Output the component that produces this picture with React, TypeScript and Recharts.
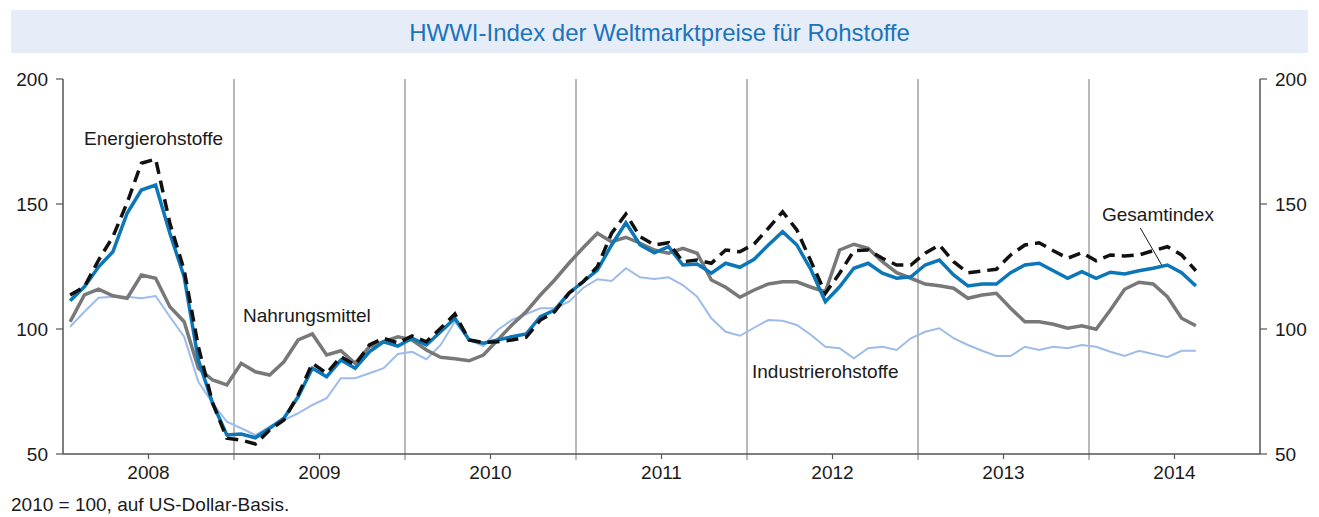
import {
  LineChart,
  Line,
  XAxis,
  YAxis,
  ReferenceLine,
} from "recharts";

// monthly values, Jan 2008 - Aug 2014 (2010 = 100)
const years = ["2008", "2009", "2010", "2011", "2012", "2013", "2014"];

const gesamt = [
  111.3, 116.9, 124.9, 130.9, 146.3, 155.6, 157.6, 138.3, 120.9, 87.6, 70.3, 57.6,
  58, 56.5, 60.3, 64.3, 72.9, 84.3, 80.9, 87.6, 84.3, 90.9, 94.9, 93.2,
  96.3, 93.6, 98.9, 104.3, 95.6, 94.3, 95.6, 96.9, 98, 104.9, 107.6, 114.3,
  118.9, 123.6, 133.6, 142.5, 133.6, 130.5, 132.9, 125.6, 126, 122.3, 126.3, 124.7,
  127.9, 133.6, 138.9, 133.6, 123.6, 110.9, 116.9, 124.3, 126.3, 122.3, 120.3, 120.9,
  125.6, 127.6, 121.6, 117.2, 118, 118, 122.5, 125.6, 126.3, 123.3, 120.3, 122.9,
  120.3, 122.7, 122, 123.3, 124.3, 125.6, 122.5, 117.2,
];

const energie = [
  113.6, 116.9, 127.6, 136.9, 150.5, 166.3, 168, 142.3, 123.6, 92.9, 70.4, 56.3,
  55.6, 54, 59.6, 63.6, 73.6, 86.3, 82.3, 88.9, 85.6, 93.6, 96.3, 94.4,
  97.2, 94.9, 100.3, 106, 95.6, 94.6, 94.9, 95.6, 96.7, 103.6, 106.9, 114.3,
  118.9, 124.9, 138.3, 146, 136.9, 133.6, 134.5, 126.9, 127.6, 126.3, 131.6, 130.9,
  134, 140.3, 146.9, 139.6, 126.9, 114.3, 122.3, 131.3, 131.6, 128.3, 125.6, 125.6,
  130.3, 133.6, 126.9, 122.5, 123.2, 123.9, 129.6, 133.6, 134.5, 131.3, 128.3, 130.5,
  127.3, 129.6, 129.2, 129.6, 131.3, 132.9, 129.6, 123.3,
];

const nahrung = [
  102.9, 113.6, 115.9, 113.3, 112.3, 121.6, 120.3, 108.9, 102.9, 84.3, 79.6, 77.6,
  86.3, 82.9, 81.6, 86.9, 95.6, 98, 89.6, 91.3, 86.3, 92.9, 94.9, 96.9,
  95.6, 91.6, 88.7, 88.1, 87.3, 89.6, 95.6, 101.6, 106.9, 113.6, 119.6, 126.3,
  132.5, 138.3, 134.9, 136.7, 134.3, 131.6, 130.3, 132.3, 130.3, 119.6, 116.7, 112.7,
  115.6, 118, 118.9, 118.9, 116.7, 114.9, 131.6, 133.9, 132.3, 126.9, 122.5, 120.3,
  118, 117.3, 116.3, 112.3, 113.6, 114.3, 108.3, 102.9, 102.9, 101.9, 100.3, 101.3,
  99.9, 107.6, 115.9, 118.7, 118, 112.9, 104.3, 101.3,
];

const industrie = [
  100.9, 106.9, 112.5, 112.9, 112.9, 112.3, 113.2, 104.9, 96.9, 78.9, 70.3, 62.9,
  60.3, 57.6, 60.9, 63.6, 66.3, 69.6, 72.3, 80.3, 80.3, 82.3, 84.3, 90,
  90.9, 87.9, 93.6, 102.9, 95.6, 93.2, 99.6, 103.6, 106, 108.3, 108.3, 110.9,
  116.4, 119.9, 119.2, 124.3, 120.7, 120, 120.7, 117.6, 112.9, 104.3, 98.9, 97.3,
  100.5, 103.6, 103.3, 101.6, 97.6, 92.9, 92.3, 88.3, 92.3, 92.9, 91.6, 96.3,
  98.9, 100.3, 96.3, 93.6, 91.3, 89.2, 89.2, 92.9, 91.6, 92.9, 92.3, 93.6,
  92.9, 90.9, 89.2, 91.3, 90, 88.7, 91.3, 91.3,
];

const yTicks = [50, 100, 150, 200];

const data = gesamt.map((v, i) => ({
  t: i + 0.5,
  gesamt: v,
  energie: energie[i],
  nahrung: nahrung[i],
  industrie: industrie[i],
}));

const yearTicks = years.map((_, i) => i * 12 + 6);
const yearBreaks = years.slice(1).map((_, i) => (i + 1) * 12);

const font = "'Liberation Sans', Arial, Helvetica, sans-serif";
const axisColor = "#555555";
const tickStyle = { fill: "#1a1a1a", fontSize: 19, fontFamily: font };

const label = (text: string, left: number, top: number) => (
  <div
    style={{
      position: "absolute",
      left,
      top,
      fontFamily: font,
      fontSize: 19,
      color: "#1a1a1a",
      whiteSpace: "nowrap",
      lineHeight: "20px",
    }}
  >
    {text}
  </div>
);

export default function App() {
  return (
    <div
      style={{
        position: "absolute",
        left: 0,
        top: 0,
        width: 1319,
        height: 517,
        background: "#ffffff",
        overflow: "hidden",
      }}
    >
      <div
        style={{
          position: "absolute",
          left: 11,
          top: 10,
          width: 1297,
          height: 43,
          background: "#e7ecf9",
          color: "#1a74ba",
          fontFamily: font,
          fontSize: 24,
          lineHeight: "45px",
          textAlign: "center",
        }}
      >
        HWWI-Index der Weltmarktpreise für Rohstoffe
      </div>

      <div style={{ position: "absolute", left: 0, top: 0 }}>
        <LineChart
          width={1319}
          height={517}
          data={data}
          margin={{ top: 79, right: 8, bottom: 33, left: 8 }}
        >
          <XAxis
            dataKey="t"
            type="number"
            domain={[0, 84]}
            ticks={yearTicks}
            tickFormatter={(v: number) => years[Math.round((v - 6) / 12)]}
            interval={0}
            height={30}
            tick={tickStyle}
            tickSize={5}
            tickMargin={7}
            axisLine={{ stroke: axisColor, strokeWidth: 1.5 }}
            tickLine={{ stroke: axisColor, strokeWidth: 1.2 }}
          />
          <YAxis
            yAxisId="l"
            domain={[50, 200]}
            ticks={yTicks}
            interval={0}
            width={55}
            tick={tickStyle}
            tickSize={7}
            tickMargin={8}
            axisLine={{ stroke: axisColor, strokeWidth: 1.5 }}
            tickLine={{ stroke: axisColor, strokeWidth: 1.2 }}
          />
          <YAxis
            yAxisId="r"
            orientation="right"
            domain={[50, 200]}
            ticks={yTicks}
            interval={0}
            width={51}
            tick={{ ...tickStyle, textAnchor: "start" }}
            tickSize={7}
            tickMargin={8}
            axisLine={{ stroke: axisColor, strokeWidth: 1.5 }}
            tickLine={{ stroke: axisColor, strokeWidth: 1.2 }}
          />
          {yearBreaks.map((x) => (
            <ReferenceLine
              key={x}
              x={x}
              yAxisId="l"
              stroke="#8a8a8a"
              strokeWidth={1.2}
              shape={(p: any) => (
                <line
                  x1={p.x1}
                  x2={p.x2}
                  y1={Math.min(p.y1, p.y2)}
                  y2={Math.max(p.y1, p.y2) + 6}
                  stroke="#8a8a8a"
                  strokeWidth={1.2}
                />
              )}
            />
          ))}
          <ReferenceLine
            yAxisId="l"
            segment={[
              { x: 75.6, y: 140.4 },
              { x: 77.1, y: 125.6 },
            ]}
            stroke="#1a1a1a"
            strokeWidth={1}
          />
          <Line
            yAxisId="r"
            dataKey="industrie"
            stroke="#9dbce9"
            strokeWidth={2}
            dot={false}
            isAnimationActive={false}
          />
          <Line
            yAxisId="l"
            dataKey="nahrung"
            stroke="#787878"
            strokeWidth={3.5}
            dot={false}
            isAnimationActive={false}
          />
          <Line
            yAxisId="l"
            dataKey="gesamt"
            stroke="#0b77b9"
            strokeWidth={3.5}
            dot={false}
            isAnimationActive={false}
          />
          <Line
            yAxisId="l"
            dataKey="energie"
            stroke="#111111"
            strokeWidth={3.5}
            strokeDasharray="12 7"
            dot={false}
            isAnimationActive={false}
          />
        </LineChart>
      </div>

      {label("Energierohstoffe", 84, 129)}
      {label("Nahrungsmittel", 243, 306)}
      {label("Industrierohstoffe", 752, 362)}
      {label("Gesamtindex", 1102, 205)}
      {label("2010 = 100, auf US-Dollar-Basis.", 11, 495)}
    </div>
  );
}
